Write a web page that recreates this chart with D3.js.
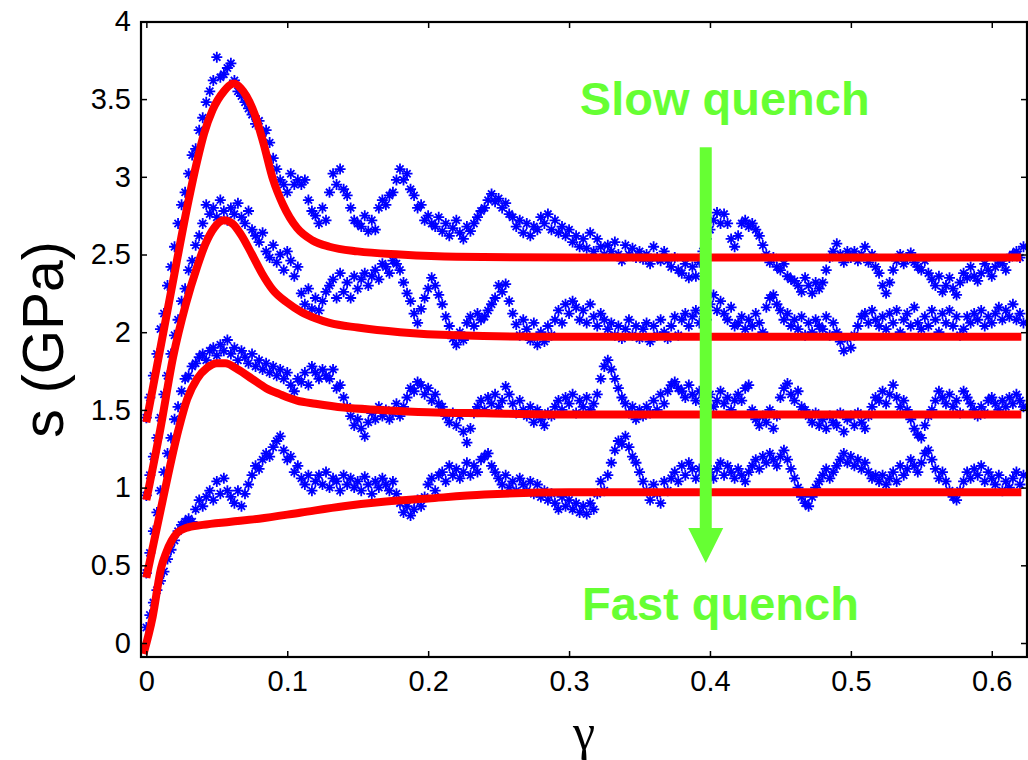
<!DOCTYPE html>
<html>
<head>
<meta charset="utf-8">
<script src="https://cdn.jsdelivr.net/npm/d3@7/dist/d3.min.js"></script>
<style>
  body { margin: 0; background: #fff; }
  svg { display: block; }
</style>
</head>
<body>
<div id="chart"></div>
<script>
// strain grid of the MD runs: one sample every 0.0025
const strainStep = 0.0025;

// stress (GPa), slowest quench on top
const stressSlow = [
  1.45,1.58,1.72,1.86, 2.02,2.12,2.30,2.42, 2.55,2.70,2.82,2.90, 3.02,3.14,3.18,3.30,
  3.38,3.48,3.55,3.62, 3.77,3.64,3.66,3.70, 3.73,3.62,3.55,3.52, 3.48,3.44,3.40,3.34,
  3.36,3.28,3.30,3.22, 3.12,3.05,2.98,2.95, 2.90,3.02,2.95,2.98, 2.95,2.98,2.85,2.78,
  2.75,2.70,2.80,2.72, 2.90,3.02,2.95,3.05, 2.92,2.88,2.80,2.72, 2.70,2.68,2.75,2.65,
  2.72,2.66,2.80,2.85, 2.82,2.88,2.90,2.98, 3.05,2.98,3.02,2.92, 2.88,2.80,2.82,2.72,
  2.75,2.70,2.68,2.74, 2.65,2.70,2.62,2.67, 2.72,2.64,2.60,2.68, 2.65,2.70,2.74,2.78,
  2.80,2.85,2.89,2.84, 2.86,2.80,2.83,2.76, 2.74,2.68,2.72,2.64, 2.70,2.62,2.68,2.66,
  2.74,2.70,2.76,2.66, 2.72,2.64,2.68,2.62, 2.66,2.58,2.62,2.55, 2.60,2.54,2.64,2.52,
  2.60,2.55,2.50,2.56, 2.52,2.58,2.50,2.46, 2.56,2.50,2.54,2.48, 2.52,2.47,2.50,2.44,
  2.55,2.48,2.46,2.52, 2.46,2.42,2.48,2.40, 2.38,2.44,2.35,2.42, 2.36,2.45,2.52,2.60,
  2.66,2.72,2.77,2.70, 2.76,2.70,2.60,2.55, 2.62,2.70,2.72,2.68, 2.70,2.66,2.62,2.56,
  2.50,2.45,2.48,2.42, 2.40,2.44,2.36,2.34, 2.33,2.30,2.26,2.35, 2.30,2.25,2.32,2.28,
  2.32,2.40,2.48,2.52, 2.57,2.50,2.45,2.52, 2.48,2.52,2.46,2.50, 2.55,2.45,2.50,2.42,
  2.38,2.30,2.25,2.32, 2.40,2.46,2.50,2.44, 2.48,2.51,2.45,2.42, 2.40,2.46,2.38,2.34,
  2.30,2.36,2.26,2.30, 2.35,2.28,2.24,2.32, 2.38,2.35,2.42,2.36, 2.33,2.38,2.44,2.40,
  2.36,2.42,2.46,2.44, 2.40,2.48,2.50,2.52, 2.48,2.55
];
const stressMid1 = [
  0.95,1.08,1.20,1.32, 1.45,1.60,1.72,1.86, 1.98,2.08,2.20,2.28, 2.40,2.46,2.56,2.62,
  2.70,2.82,2.76,2.80, 2.74,2.85,2.78,2.72, 2.80,2.76,2.83,2.74, 2.70,2.78,2.66,2.62,
  2.58,2.64,2.52,2.48, 2.56,2.45,2.50,2.40, 2.52,2.46,2.36,2.42, 2.25,2.18,2.28,2.15,
  2.22,2.14,2.20,2.26, 2.30,2.34,2.22,2.38, 2.26,2.32,2.22,2.36, 2.28,2.34,2.38,2.30,
  2.36,2.40,2.34,2.44, 2.42,2.38,2.46,2.44, 2.40,2.32,2.25,2.20, 2.12,2.06,2.15,2.22,
  2.28,2.35,2.30,2.24, 2.18,2.10,2.04,1.96, 1.92,2.00,1.95,2.06, 2.10,2.04,2.12,2.08,
  2.10,2.14,2.18,2.22, 2.30,2.26,2.31,2.20, 2.12,2.05,1.98,2.08, 2.02,1.95,2.06,1.92,
  2.00,1.94,2.04,1.98, 2.08,2.14,2.06,2.18, 2.12,2.20,2.16,2.08, 2.14,2.06,2.18,2.10,
  2.04,2.12,2.08,2.02, 2.06,1.98,2.04,1.96, 2.02,2.08,1.98,2.04, 1.96,2.02,2.06,1.94,
  2.04,1.98,2.08,2.00, 1.96,2.04,2.10,1.98, 2.08,2.12,2.04,2.10, 2.14,2.06,2.12,2.08,
  2.18,2.24,2.14,2.20, 2.12,2.08,2.16,2.04, 2.06,2.10,2.02,2.08, 2.04,2.12,2.06,2.00,
  2.16,2.22,2.24,2.18, 2.14,2.08,2.12,2.04, 2.08,2.02,2.10,1.98, 2.06,2.00,2.08,2.04,
  2.02,2.10,1.98,2.06, 2.00,1.94,1.88,1.96, 1.90,1.98,2.04,2.10, 2.12,2.06,2.14,2.08,
  2.04,2.10,2.02,2.12, 2.06,2.14,2.00,2.08, 2.12,2.04,2.16,2.06, 2.02,2.10,2.04,2.14,
  2.08,2.00,2.12,2.06, 2.14,2.04,2.10,1.98, 2.02,2.10,2.06,2.12, 2.08,2.14,2.04,2.10,
  2.06,2.12,2.16,2.08, 2.14,2.10,2.18,2.08, 2.12,2.06
];
const stressMid2 = [
  0.45,0.58,0.72,0.84, 0.98,1.10,1.22,1.32, 1.44,1.52,1.62,1.70, 1.72,1.78,1.80,1.84,
  1.86,1.82,1.88,1.90, 1.85,1.92,1.88,1.95, 1.86,1.90,1.82,1.88, 1.84,1.80,1.86,1.78,
  1.82,1.76,1.80,1.74, 1.78,1.72,1.76,1.70, 1.74,1.66,1.62,1.70, 1.68,1.74,1.66,1.78,
  1.74,1.70,1.76,1.72, 1.70,1.76,1.64,1.66, 1.58,1.52,1.46,1.40, 1.44,1.38,1.33,1.42,
  1.48,1.44,1.52,1.46, 1.50,1.44,1.48,1.54, 1.46,1.52,1.58,1.64, 1.62,1.68,1.66,1.60,
  1.64,1.56,1.60,1.54, 1.52,1.46,1.42,1.48, 1.40,1.46,1.36,1.29, 1.38,1.48,1.52,1.56,
  1.50,1.58,1.54,1.60, 1.52,1.56,1.65,1.60, 1.54,1.48,1.56,1.50, 1.46,1.52,1.42,1.50,
  1.44,1.40,1.48,1.46, 1.52,1.56,1.50,1.58, 1.54,1.60,1.48,1.56, 1.52,1.58,1.50,1.54,
  1.60,1.70,1.78,1.82, 1.76,1.70,1.64,1.58, 1.54,1.48,1.52,1.44, 1.50,1.46,1.52,1.48,
  1.56,1.50,1.60,1.54, 1.62,1.66,1.68,1.64, 1.62,1.58,1.66,1.60, 1.56,1.62,1.54,1.58,
  1.60,1.52,1.56,1.62, 1.54,1.58,1.50,1.56, 1.60,1.56,1.64,1.66, 1.50,1.44,1.40,1.46,
  1.42,1.50,1.38,1.46, 1.58,1.64,1.67,1.60, 1.56,1.62,1.52,1.50, 1.46,1.42,1.48,1.40,
  1.44,1.38,1.46,1.42, 1.40,1.48,1.36,1.44, 1.46,1.40,1.48,1.42, 1.38,1.46,1.52,1.58,
  1.56,1.62,1.54,1.60, 1.66,1.58,1.52,1.56, 1.50,1.44,1.38,1.34, 1.32,1.40,1.46,1.50,
  1.56,1.62,1.58,1.54, 1.60,1.52,1.56,1.48, 1.62,1.58,1.54,1.50, 1.46,1.52,1.48,1.56,
  1.58,1.54,1.50,1.56, 1.52,1.58,1.54,1.60, 1.56,1.52
];
const stressFast = [
  0.10,0.18,0.26,0.34, 0.40,0.46,0.54,0.60, 0.66,0.72,0.76,0.78, 0.80,0.78,0.86,0.92,
  0.88,0.94,0.98,0.92, 1.04,0.96,1.06,0.98, 0.94,0.90,0.98,0.88, 0.96,1.02,1.08,1.14,
  1.12,1.18,1.22,1.20, 1.26,1.30,1.33,1.24, 1.18,1.20,1.10,1.14, 1.06,1.02,1.08,0.98,
  1.04,1.08,1.02,1.10, 1.00,1.06,1.04,0.98, 1.08,1.02,1.06,1.00, 1.04,0.98,1.07,1.02,
  0.96,1.04,1.00,1.06, 1.02,0.98,1.04,0.96, 0.90,0.84,0.88,0.82, 0.86,0.92,0.88,0.94,
  1.02,1.06,0.98,1.08, 1.10,1.04,1.14,1.08, 1.12,1.06,1.10,1.16, 1.08,1.14,1.10,1.18,
  1.20,1.22,1.14,1.10, 1.06,1.02,1.08,1.00, 1.04,0.98,1.06,1.02, 0.98,1.04,0.96,1.02,
  0.94,0.98,0.92,0.96, 0.90,0.86,0.94,0.88, 0.92,0.86,0.90,0.84, 0.88,0.83,0.90,0.86,
  0.96,1.04,0.98,1.08, 1.16,1.24,1.30,1.28, 1.33,1.26,1.20,1.16, 1.10,1.04,0.98,0.92,
  1.02,0.96,0.90,1.04, 0.98,1.06,1.10,1.04, 1.14,1.08,1.16,1.12, 1.06,1.12,1.08,1.14,
  1.10,1.06,1.12,1.16, 1.08,1.14,1.10,1.06, 1.12,1.08,1.04,1.10, 1.14,1.18,1.12,1.20,
  1.16,1.22,1.18,1.14, 1.20,1.24,1.18,1.12, 1.06,1.00,0.94,0.90, 0.88,0.94,1.00,1.04,
  1.08,1.12,1.06,1.10, 1.14,1.18,1.22,1.16, 1.20,1.14,1.18,1.12, 1.16,1.10,1.06,1.08,
  1.04,1.08,1.02,1.06, 1.10,1.04,1.14,1.08, 1.12,1.18,1.14,1.10, 1.16,1.22,1.24,1.18,
  1.12,1.06,1.10,1.04, 0.98,0.94,0.92,0.98, 1.04,1.10,1.06,1.12, 1.08,1.14,1.04,1.10,
  1.06,1.02,1.08,0.98, 1.04,1.00,1.06,1.10, 1.02,1.08
];

// fitted model curves [strain, stress]
const fitSlow = [[0,1.42],[0.01,1.9],[0.02,2.38],[0.03,2.85],[0.036,3.1],[0.041,3.28],[0.047,3.43],
  [0.055,3.55],[0.062,3.6],[0.067,3.57],[0.071,3.52],[0.077,3.4],[0.083,3.22],[0.09,2.98],
  [0.097,2.82],[0.107,2.67],[0.118,2.59],[0.13,2.55],[0.15,2.52],[0.18,2.5],[0.22,2.485],
  [0.3,2.48],[0.621,2.48]];
const fitMid1 = [[0,0.92],[0.01,1.38],[0.019,1.84],[0.028,2.18],[0.036,2.42],[0.042,2.57],
  [0.048,2.67],[0.055,2.72],[0.061,2.7],[0.067,2.63],[0.075,2.5],[0.082,2.38],[0.09,2.27],
  [0.1,2.19],[0.11,2.13],[0.12,2.09],[0.13,2.06],[0.15,2.03],[0.18,2.0],[0.22,1.98],
  [0.3,1.97],[0.621,1.97]];
const fitMid2 = [[0,0.42],[0.0114,0.91],[0.023,1.38],[0.029,1.57],[0.036,1.7],[0.043,1.77],
  [0.05,1.8],[0.056,1.8],[0.065,1.76],[0.075,1.7],[0.085,1.64],[0.095,1.6],[0.107,1.56],
  [0.12,1.54],[0.14,1.515],[0.166,1.5],[0.2,1.485],[0.24,1.478],[0.3,1.47],[0.621,1.47]];
const fitFast = [[-0.002,-0.07],[0.0045,0.17],[0.0104,0.48],[0.014,0.58],[0.018,0.66],
  [0.022,0.71],[0.028,0.74],[0.04,0.76],[0.06,0.78],[0.08,0.8],[0.11,0.84],[0.14,0.88],
  [0.17,0.91],[0.2,0.93],[0.24,0.955],[0.3,0.97],[0.621,0.97]];

const xTicks = [0, 0.1, 0.2, 0.3, 0.4, 0.5, 0.6];
const xTickLabels = ["0", "0.1", "0.2", "0.3", "0.4", "0.5", "0.6"];
const yTicks = [0, 0.5, 1, 1.5, 2, 2.5, 3, 3.5, 4];
const yTickLabels = ["0", "0.5", "1", "1.5", "2", "2.5", "3", "3.5", "4"];

(function() {
    let w = 1028,
        h = 760,
        left = 141, right = 1027, top = 22, bottom = 657;

    let svg = d3.select("#chart")
        .append("svg")
        .attr("width", w)
        .attr("height", h)
        .style("font-family", "'Liberation Sans', Arial, sans-serif");

    let x = d3.scaleLinear().domain([-0.0038, 0.625]).range([left, right]);
    let y = d3.scaleLinear().domain([-0.09, 4]).range([bottom, 21.4]);

    svg.append("defs").append("clipPath").attr("id", "plot")
        .append("rect")
        .attr("x", left).attr("y", top)
        .attr("width", right - left).attr("height", bottom - top);

    let plot = svg.append("g").attr("clip-path", "url(#plot)");

    // MATLAB-style '*' marker
    let star = "M-5.5,0H5.5M0,-5.5V5.5M-3.6,-3.6L3.6,3.6M-3.6,3.6L3.6,-3.6";

    [stressSlow, stressMid1, stressMid2, stressFast].forEach(function(series) {
        plot.append("g")
            .selectAll("path").data(series).enter().append("path")
            .attr("d", star)
            .attr("transform", (d, i) => "translate(" + x(i * strainStep) + "," + y(d) + ")")
            .attr("fill", "none")
            .attr("stroke", "#0000ff")
            .attr("stroke-width", 1.8);
    });

    // quench-rate arrow
    let green = "#66ff33";
    let arrowX = x(0.397);
    svg.append("rect")
        .attr("x", arrowX - 6).attr("y", y(3.19))
        .attr("width", 12).attr("height", y(0.74) - y(3.19))
        .attr("fill", green);
    svg.append("path")
        .attr("d", "M" + (arrowX - 17.5) + "," + y(0.74) + "L" + (arrowX + 17.5) + "," + y(0.74)
            + "L" + arrowX + "," + y(0.515) + "Z")
        .attr("fill", green);

    let line = d3.line()
        .x(d => x(d[0]))
        .y(d => y(d[1]))
        .curve(d3.curveMonotoneX);

    [fitSlow, fitMid1, fitMid2, fitFast].forEach(function(fit) {
        plot.append("path")
            .attr("d", line(fit))
            .attr("fill", "none")
            .attr("stroke", "#ff0000")
            .attr("stroke-width", 8)
            .attr("stroke-linejoin", "round");
    });

    svg.append("text")
        .attr("x", x(0.4105)).attr("y", y(3.397))
        .attr("text-anchor", "middle")
        .attr("font-size", 47).attr("font-weight", "bold")
        .attr("fill", green)
        .text("Slow quench");
    svg.append("text")
        .attr("x", x(0.4075)).attr("y", y(0.147))
        .attr("text-anchor", "middle")
        .attr("font-size", 47).attr("font-weight", "bold")
        .attr("fill", green)
        .text("Fast quench");

    // axes: ticks point inward on all four sides
    let axes = [
        d3.axisBottom(x).tickValues(xTicks).tickFormat((d, i) => xTickLabels[i]).tickSize(-6).tickPadding(13),
        d3.axisTop(x).tickValues(xTicks).tickFormat("").tickSize(-6),
        d3.axisLeft(y).tickValues(yTicks).tickFormat((d, i) => yTickLabels[i]).tickSize(-6).tickPadding(10),
        d3.axisRight(y).tickValues(yTicks).tickFormat("").tickSize(-6)
    ];
    let shifts = ["0," + bottom, "0," + top, left + ",0", right + ",0"];
    axes.forEach(function(ax, k) {
        let g = svg.append("g")
            .attr("transform", "translate(" + shifts[k] + ")")
            .call(ax);
        g.select(".domain").remove();
        g.selectAll("line").attr("stroke", "#000").attr("stroke-width", 1.5);
        g.selectAll("text")
            .attr("fill", "#000")
            .style("font-family", "'Liberation Sans', Arial, sans-serif")
            .style("font-size", "29px");
    });

    svg.append("rect")
        .attr("x", left).attr("y", top)
        .attr("width", right - left).attr("height", bottom - top)
        .attr("fill", "none")
        .attr("stroke", "#000")
        .attr("stroke-width", 2.2);

    svg.append("text")
        .attr("transform", "translate(63," + ((top + bottom) / 2) + ") rotate(-90)")
        .attr("text-anchor", "middle")
        .attr("font-size", 57)
        .text("s (GPa)");

    svg.append("text")
        .attr("x", (left + right) / 2).attr("y", 749)
        .attr("text-anchor", "middle")
        .attr("font-size", 50)
        .style("font-family", "'Liberation Serif', 'Times New Roman', serif")
        .text("γ");
})();
</script>
</body>
</html>
